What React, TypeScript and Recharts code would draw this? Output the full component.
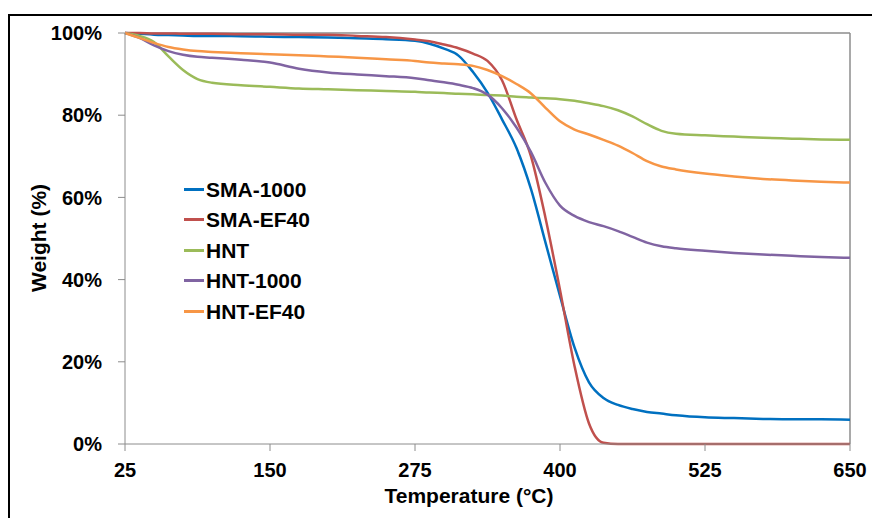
import { LineChart, Line, XAxis, YAxis, Legend, ReferenceLine } from 'recharts';

const temps = [
  25, 37.5, 50, 62.5, 75, 87.5, 100, 125, 150, 175, 200, 225, 250, 275, 287.5, 300, 312.5, 325,
  337.5, 350, 362.5, 375, 387.5, 400, 412.5, 425, 437.5, 450, 462.5, 475, 487.5, 500, 525, 550,
  575, 600, 625, 650,
];

const sma1000 = [
  100, 99.8, 99.6, 99.5, 99.4, 99.3, 99.3, 99.2, 99.1, 99, 98.9, 98.7, 98.5, 98.1, 97.4, 96.2, 94.5,
  90.5, 85.5, 79, 72, 62, 49, 36, 23.5, 15, 11.2, 9.5, 8.5, 7.8, 7.4, 7, 6.5, 6.3, 6.1, 6, 6, 5.9,
];

const smaEf40 = [
  100, 100, 99.9, 99.9, 99.8, 99.8, 99.8, 99.7, 99.7, 99.6, 99.6, 99.3, 99, 98.4, 98, 97.2, 96.3,
  95, 93.2, 88.5, 79, 70, 55, 37.5, 19, 5, 0.3, 0, 0, 0, 0, 0, 0, 0, 0, 0, 0, 0,
];

const hnt = [
  100, 99.3, 97.8, 94.3, 91, 88.8, 87.9, 87.3, 86.9, 86.5, 86.3, 86.1, 85.9, 85.7, 85.5, 85.4, 85.2,
  85.1, 84.9, 84.8, 84.5, 84.3, 84.1, 83.9, 83.5, 82.9, 82.2, 81.2, 79.7, 77.8, 76.2, 75.5, 75.1,
  74.8, 74.5, 74.3, 74.1, 74,
];

const hnt1000 = [
  100, 98.8, 97, 95.6, 94.7, 94.2, 94, 93.5, 92.8, 91.3, 90.4, 89.9, 89.5, 89, 88.5, 88, 87.4, 86.6,
  85, 81.7, 77, 71, 63.5, 58, 55.5, 54, 53, 51.8, 50.4, 49, 48.1, 47.6, 47, 46.5, 46.1, 45.8, 45.5,
  45.3,
];

const hntEf40 = [
  100, 98.8, 97.6, 96.6, 96, 95.6, 95.4, 95.1, 94.8, 94.6, 94.3, 94, 93.6, 93.2, 92.8, 92.6, 92.4,
  92, 91, 89.5, 87.6, 85.3, 81.8, 78.5, 76.5, 75.3, 74, 72.6, 70.8, 68.8, 67.5, 66.8, 65.8, 65.1,
  64.5, 64.1, 63.8, 63.6,
];

const xTicks = [25, 150, 275, 400, 525, 650];
const yTicks = [0, 20, 40, 60, 80, 100];

const data = temps.map((t, i) => ({
  t,
  'SMA-1000': sma1000[i],
  'SMA-EF40': smaEf40[i],
  HNT: hnt[i],
  'HNT-1000': hnt1000[i],
  'HNT-EF40': hntEf40[i],
}));

const SERIES = [
  { key: 'SMA-1000', color: '#0070C0' },
  { key: 'SMA-EF40', color: '#C0504D' },
  { key: 'HNT', color: '#9BBB59' },
  { key: 'HNT-1000', color: '#8064A2' },
  { key: 'HNT-EF40', color: '#F79646' },
];

const FONT = '"Liberation Sans", Arial, sans-serif';
const AXIS_GRAY = '#8c8c8c';
const tickStyle = { fontSize: 20, fontWeight: 'bold', fill: '#000', fontFamily: FONT };

// legend drawn in series order (recharts would sort it by name)
const renderLegend = () => (
  <div>
    {SERIES.map((s) => (
      <div key={s.key} style={{ display: 'flex', alignItems: 'center', height: 30.5 }}>
        <span style={{ display: 'inline-block', width: 20, height: 3, background: s.color }} />
        <span
          style={{
            marginLeft: 2,
            fontFamily: FONT,
            fontWeight: 'bold',
            fontSize: 21,
            color: '#000',
            lineHeight: '21px',
          }}
        >
          {s.key}
        </span>
      </div>
    ))}
  </div>
);

export default function App() {
  // frame is fixed so it never makes the page scroll; its right/bottom edges fall outside the shot
  return (
    <div
      style={{
        position: 'fixed',
        left: 8,
        top: 14,
        width: 864,
        height: 504,
        borderLeft: '2px solid #000',
        borderTop: '2px solid #000',
        background: '#fff',
      }}
    >
      <LineChart
        width={862}
        height={500}
        data={data}
        margin={{ top: 17, right: 22, bottom: 12, left: 0 }}
      >
        <XAxis
          dataKey='t'
          type='number'
          domain={[25, 650]}
          ticks={xTicks}
          tickSize={7}
          tickMargin={12}
          stroke={AXIS_GRAY}
          tick={tickStyle}
          height={60}
          label={{
            content: () => (
              <text
                x={459}
                y={487}
                textAnchor='middle'
                style={{ fontSize: 21, fontWeight: 'bold', fontFamily: FONT, fill: '#000' }}
              >
                Temperature (°C)
              </text>
            ),
          }}
        />
        <YAxis
          type='number'
          domain={[0, 100]}
          ticks={yTicks}
          tickFormatter={(v) => `${v}%`}
          tickSize={7}
          tickMargin={16}
          stroke={AXIS_GRAY}
          tick={tickStyle}
          width={115}
          label={{
            content: () => (
              <text
                x={36}
                y={222}
                textAnchor='middle'
                transform='rotate(-90 36 222)'
                style={{ fontSize: 21, fontWeight: 'bold', fontFamily: FONT, fill: '#000' }}
              >
                Weight (%)
              </text>
            ),
          }}
        />
        <ReferenceLine y={100} stroke={AXIS_GRAY} strokeWidth={1.5} />
        <ReferenceLine x={650} stroke={AXIS_GRAY} strokeWidth={1.5} />
        {SERIES.map((s) => (
          <Line
            key={s.key}
            type='monotone'
            dataKey={s.key}
            stroke={s.color}
            strokeWidth={2.5}
            dot={false}
            isAnimationActive={false}
          />
        ))}
        <Legend
          layout='vertical'
          align='center'
          verticalAlign='middle'
          content={renderLegend}
          wrapperStyle={{ left: 174, top: 158, width: 200 }}
        />
      </LineChart>
    </div>
  );
}
